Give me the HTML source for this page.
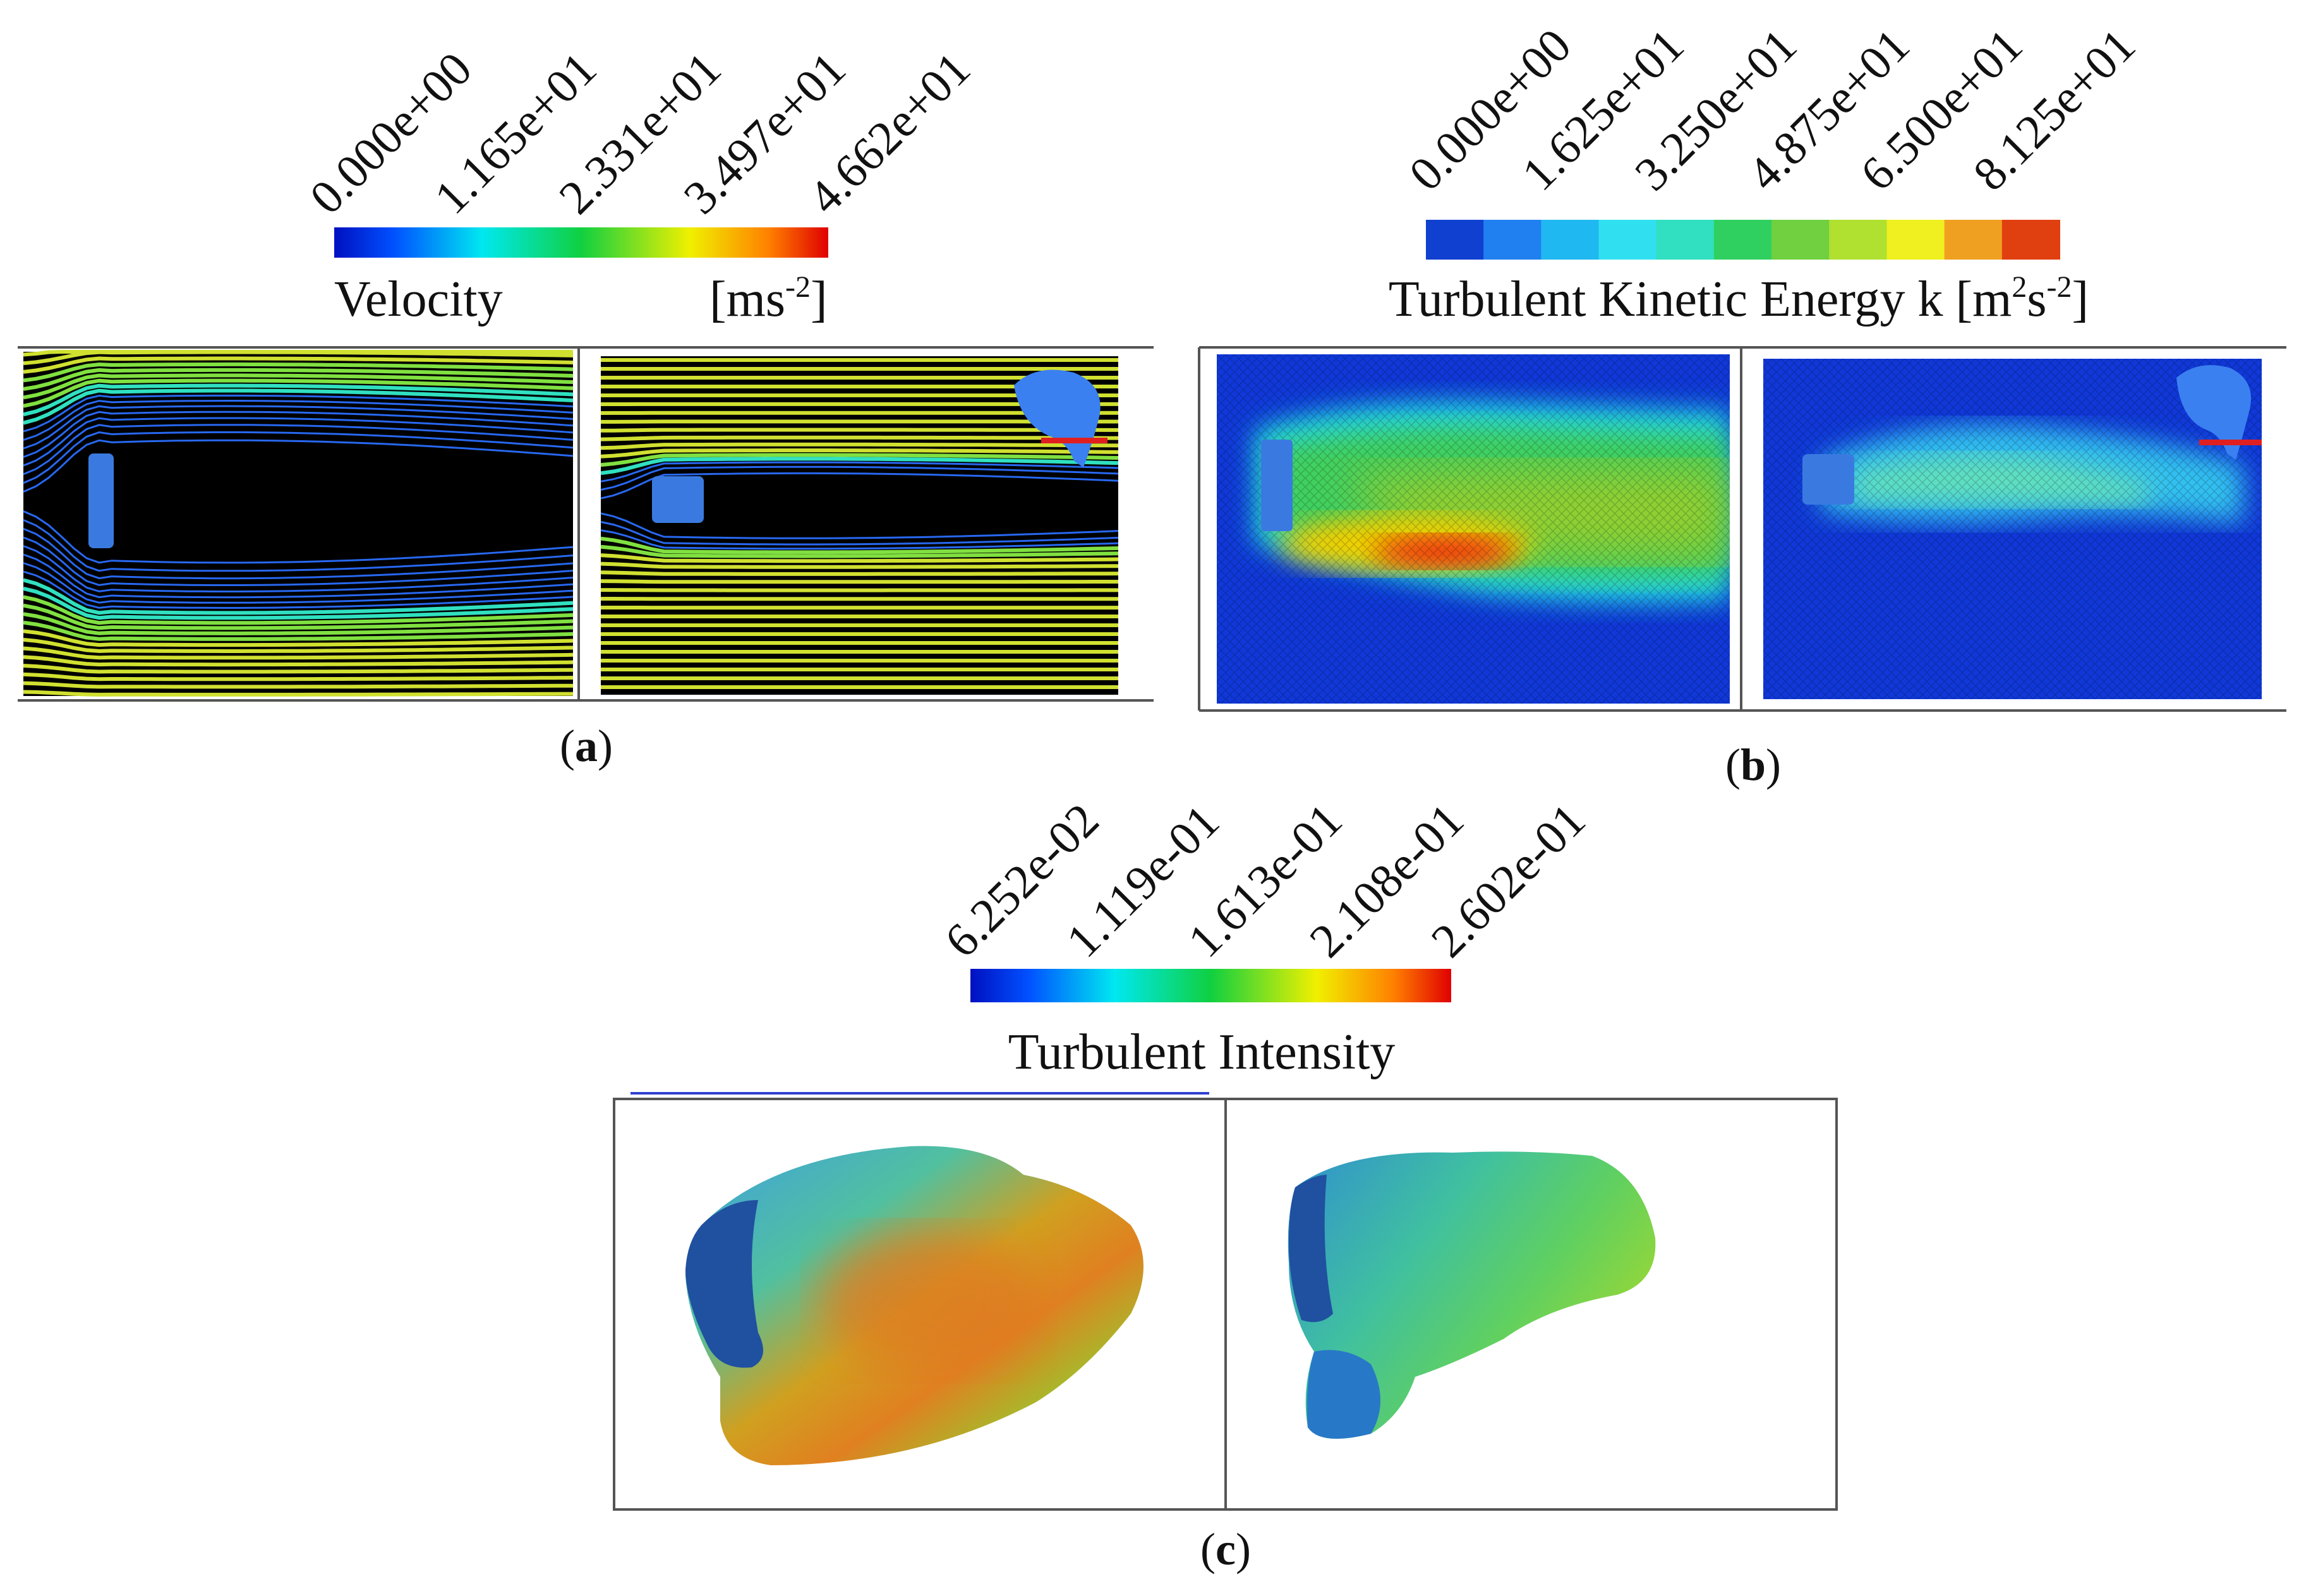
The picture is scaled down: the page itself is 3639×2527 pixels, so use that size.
<!DOCTYPE html>
<html><head><meta charset="utf-8"><style>
html,body{margin:0;padding:0;background:#fff;width:3639px;height:2527px;overflow:hidden}
svg{display:block}
text{font-family:"Liberation Serif",serif;fill:#111}
</style></head><body>
<svg id="fig" width="3639" height="2527" viewBox="0 0 3639 2527" xmlns="http://www.w3.org/2000/svg">
<defs>
<linearGradient id="jet" x1="0" x2="1" y1="0" y2="0">
<stop offset="0" stop-color="#0010c0"/><stop offset="0.12" stop-color="#0050ff"/><stop offset="0.3" stop-color="#00e8f0"/><stop offset="0.5" stop-color="#10d040"/><stop offset="0.72" stop-color="#f0f000"/><stop offset="0.88" stop-color="#ff8000"/><stop offset="1" stop-color="#e00000"/>
</linearGradient>
<filter id="blur20"><feGaussianBlur stdDeviation="20"/></filter>
<filter id="blur35"><feGaussianBlur stdDeviation="35"/></filter>
<pattern id="mesh" width="14" height="14" patternUnits="userSpaceOnUse"><path d="M0 0L14 14M14 0L0 14" stroke="#000" stroke-opacity="0.18" stroke-width="1.5"/></pattern>
<linearGradient id="blobL" x1="0" y1="0" x2="1" y2="1">
<stop offset="0" stop-color="#40a0e0"/><stop offset="0.3" stop-color="#50c0a0"/><stop offset="0.5" stop-color="#d0a020"/><stop offset="0.65" stop-color="#e08020"/><stop offset="0.85" stop-color="#90d030"/><stop offset="1" stop-color="#c0d020"/>
</linearGradient>
<linearGradient id="blobR" x1="0" y1="0" x2="1" y2="0.6">
<stop offset="0" stop-color="#3090d0"/><stop offset="0.4" stop-color="#40c0a0"/><stop offset="0.7" stop-color="#60d060"/><stop offset="1" stop-color="#a0d830"/>
</linearGradient>
</defs>

<g>
<rect x="529" y="360" width="782" height="48" fill="url(#jet)"/>
</g>
<g id="labelsA"></g>
<text x="529" y="500" font-size="80">Velocity</text>
<text x="1123" y="500" font-size="80">[ms<tspan font-size="48" dy="-30">-2</tspan><tspan dy="30">]</tspan></text>

<g stroke="#555" stroke-width="4">
<line x1="28" y1="550" x2="1826" y2="550"/><line x1="28" y1="1109" x2="1826" y2="1109"/><line x1="916" y1="550" x2="916" y2="1109"/>
</g>
<g>
<rect x="37" y="557" width="870" height="545" fill="#000"/>
<g id="slA1"></g>
<rect x="140" y="718" width="40" height="150" rx="8" fill="#3a7ae0"/>
</g>
<g>
<rect x="951" y="564" width="819" height="536" fill="#000"/>
<g id="slA2"></g>
<rect x="1032" y="754" width="82" height="74" rx="8" fill="#3a7ae0"/>
<g>
<path d="M1605 610 Q1640 575 1700 590 Q1750 610 1740 660 Q1730 700 1715 740 L1700 730 Q1690 700 1660 690 Q1615 670 1605 610Z" fill="#3a80f0"/>
<rect x="1648" y="693" width="105" height="9" fill="#e02020"/>
</g>
</g>
<text x="928" y="1205" font-size="72" text-anchor="middle">(<tspan font-weight="bold">a</tspan>)</text>

<g id="cbB"></g>
<g id="labelsB"></g>
<text x="2752" y="500" font-size="80" text-anchor="middle">Turbulent Kinetic Energy k [m<tspan font-size="48" dy="-30">2</tspan><tspan dy="30">s</tspan><tspan font-size="48" dy="-30">-2</tspan><tspan dy="30">]</tspan></text>
<g stroke="#555" stroke-width="4">
<line x1="1898" y1="550" x2="3619" y2="550"/><line x1="1898" y1="1125" x2="3619" y2="1125"/><line x1="2756" y1="550" x2="2756" y2="1125"/><line x1="1898" y1="550" x2="1898" y2="1125"/>
</g>
<g>
<svg x="1926" y="561" width="812" height="553" viewBox="0 0 812 553">
<rect width="812" height="553" fill="#1038d8"/>
<path d="M60 120 Q200 70 420 75 L812 90 L812 390 Q600 400 420 380 Q200 340 60 300Z" fill="#20d8e0" filter="url(#blur20)"/>
<path d="M90 145 Q250 110 450 115 L812 130 L812 350 Q600 360 420 345 Q220 320 90 280Z" fill="#40d060" filter="url(#blur20)"/>
<path d="M200 200 Q400 170 812 180 L812 320 Q500 330 300 300Z" fill="#90d030" filter="url(#blur35)"/>
<ellipse cx="300" cy="300" rx="200" ry="45" fill="#f0d000" filter="url(#blur20)"/>
<ellipse cx="360" cy="312" rx="110" ry="25" fill="#f03010" filter="url(#blur20)"/>
<rect width="812" height="553" fill="url(#mesh)"/>
<rect x="70" y="135" width="50" height="145" rx="6" fill="#3a7ae0"/>
</svg>
</g>
<g>
<svg x="2791" y="568" width="789" height="539" viewBox="0 0 789 539">
<rect width="789" height="539" fill="#1038d8"/>
<path d="M90 160 Q250 90 450 110 Q650 130 760 170 L760 260 Q600 240 450 250 Q250 270 90 240Z" fill="#30c0f0" filter="url(#blur20)"/>
<path d="M140 180 Q300 140 450 160 Q550 180 620 200 L600 230 Q400 230 140 225Z" fill="#60e0c0" filter="url(#blur20)"/>
<rect width="789" height="539" fill="url(#mesh)"/>
<rect x="62" y="151" width="82" height="80" rx="8" fill="#3a7ae0"/>
<path d="M654 30 Q690 0 740 15 Q780 35 770 80 Q760 120 748 160 L734 150 Q724 120 700 112 Q660 95 654 30Z" fill="#3a80f0"/>
<rect x="690" y="128" width="105" height="9" fill="#e02020"/>
</svg>
</g>
<text x="2775" y="1235" font-size="72" text-anchor="middle">(<tspan font-weight="bold">b</tspan>)</text>

<rect x="1536" y="1534" width="761" height="53" fill="url(#jet)"/>
<g id="labelsC"></g>
<text x="1902" y="1692" font-size="80" text-anchor="middle">Turbulent Intensity</text>
<line x1="998" y1="1731" x2="1914" y2="1731" stroke="#3040d0" stroke-width="4"/>
<g stroke="#555" stroke-width="4" fill="none">
<rect x="972" y="1740" width="1935" height="650"/><line x1="1940" y1="1740" x2="1940" y2="2390"/>
</g>
<g>
<path d="M1110 1940 Q1220 1830 1440 1815 Q1560 1810 1620 1860 Q1720 1880 1790 1940 Q1830 2000 1790 2080 Q1720 2170 1640 2220 Q1450 2320 1220 2320 Q1150 2310 1140 2250 L1140 2180 Q1090 2100 1085 2020 Q1085 1970 1110 1940Z" fill="url(#blobL)"/>
<ellipse cx="1470" cy="2060" rx="170" ry="110" fill="#e07820" opacity="0.7" filter="url(#blur35)"/>
<path d="M1110 1940 Q1150 1900 1200 1900 Q1180 2000 1200 2110 Q1220 2150 1190 2165 Q1140 2170 1120 2130 Q1085 2060 1085 2010 Q1088 1965 1110 1940Z" fill="#2050a0"/>
</g>
<g>
<path d="M2050 1880 Q2130 1820 2300 1825 Q2420 1820 2520 1830 Q2600 1860 2620 1960 Q2625 2030 2560 2050 Q2450 2070 2380 2120 Q2300 2160 2240 2180 Q2220 2240 2170 2270 Q2090 2290 2070 2260 Q2060 2200 2080 2140 Q2040 2080 2040 2000 Q2035 1930 2050 1880Z" fill="url(#blobR)"/>
<path d="M2050 1880 Q2080 1860 2100 1860 Q2090 1980 2110 2080 Q2090 2100 2060 2090 Q2040 2030 2040 1970 Q2040 1910 2050 1880Z" fill="#2050a0"/>
<path d="M2080 2140 Q2130 2130 2170 2160 Q2200 2220 2170 2270 Q2090 2290 2070 2260 Q2065 2190 2080 2140Z" fill="#2878c8"/>
</g>
<text x="1940" y="2477" font-size="72" text-anchor="middle">(<tspan font-weight="bold">c</tspan>)</text>
</svg>
<script>
const NS="http://www.w3.org/2000/svg";
const velLabels=["0.000e+00","1.165e+01","2.331e+01","3.497e+01","4.662e+01"];
const tkeLabels=["0.000e+00","1.625e+01","3.250e+01","4.875e+01","6.500e+01","8.125e+01"];
const tiLabels=["6.252e-02","1.119e-01","1.613e-01","2.108e-01","2.602e-01"];
const tkeBands=["#1040d0","#2080f0","#20b8f0","#30e0f0","#30e0c0","#30d060","#70d040","#b0e030","#f0f020","#f0a020","#e04010"];
function labels(id,arr,x0,x1,y){
  const g=document.getElementById(id);
  arr.forEach((s,i)=>{
    const x=x0+(x1-x0)*i/(arr.length-1);
    const t=document.createElementNS(NS,"text");
    
    
    t.setAttribute("x",x);t.setAttribute("y",y);t.setAttribute("font-size","76");
    t.setAttribute("transform",`rotate(-45 ${x} ${y})`);
    t.textContent=s;g.appendChild(t);
  });
}
labels("labelsA",velLabels,522,1311,343);
labels("labelsB",tkeLabels,2262,3155,306);
labels("labelsC",tiLabels,1527,2297,1520);
const cb=document.getElementById("cbB");
const bw=(3260-2257)/tkeBands.length;
tkeBands.forEach((c,i)=>{
  const r=document.createElementNS(NS,"rect");
  
  
  r.setAttribute("x",2257+i*bw);r.setAttribute("y",348);r.setAttribute("width",bw+1);r.setAttribute("height",63);r.setAttribute("fill",c);
  cb.appendChild(r);
});
function streams(id,x0,x1,y0,y1,bx,yc,h,amp,gap){
  const g=document.getElementById(id);
  for(let y=y0+6;y<y1;y+=gap){
    const d=y-yc, s=Math.sign(d)||1, near=Math.exp(-Math.pow(d/(h*1.6),2));
    let pts=[];
    for(let x=x0;x<=x1+20;x+=20){
      const xx=Math.min(x,x1);
      const f=xx<bx?Math.exp(-Math.pow((xx-bx)/80,2)):Math.exp(-Math.pow((xx-bx-200)/(x1-bx),2)*0.6);
      const yy=y+s*amp*near*f;
      pts.push(xx+","+Math.max(y0,Math.min(y1,yy)).toFixed(1));
    }
    const p=document.createElementNS(NS,"polyline");
    
    
    p.setAttribute("points",pts.join(" "));
    const c=Math.abs(d)<h?"#2868f0":(near>0.55?"#30e0c0":(near>0.3?"#80e040":"#d0e030"));
    p.setAttribute("stroke",c);p.setAttribute("stroke-width",Math.abs(d)<h?3:6);p.setAttribute("fill","none");
    g.appendChild(p);
  }
}
streams("slA1",37,907,557,1102,160,795,110,90,14);
streams("slA2",951,1770,564,1100,1070,800,40,45,14);
</script>
</body></html>
